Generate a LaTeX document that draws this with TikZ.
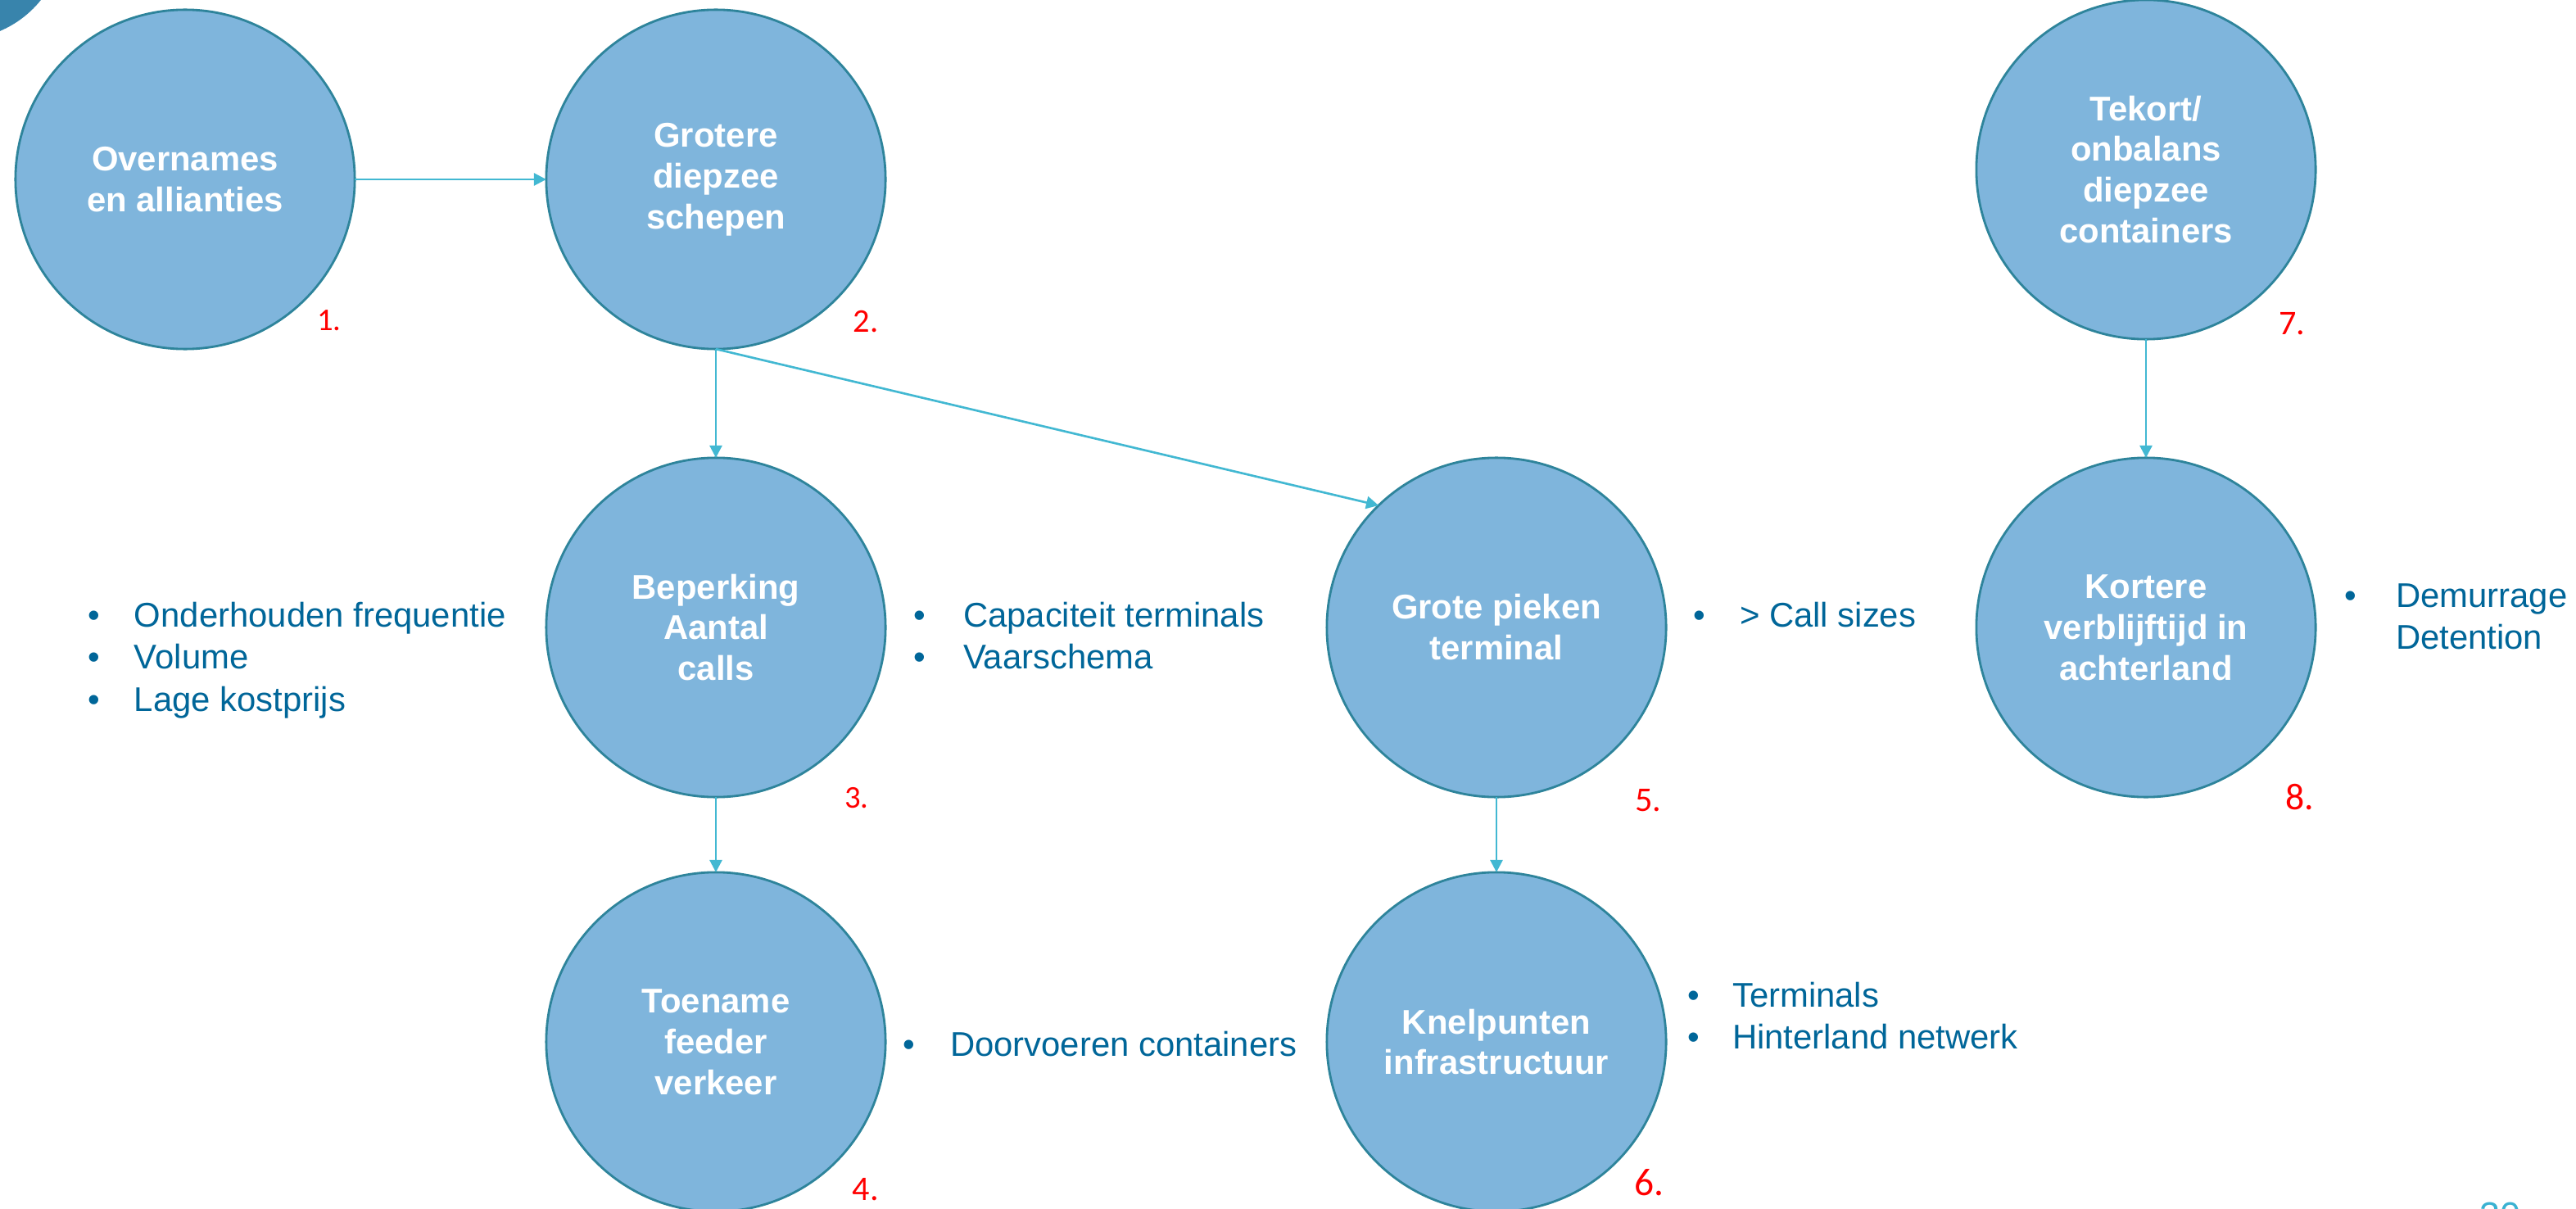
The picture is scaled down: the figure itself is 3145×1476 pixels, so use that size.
\documentclass[tikz,border=0pt]{standalone}
\usepackage{fontspec}
\setmainfont{Liberation Sans}
\newfontfamily\numfont{Carlito}
\usetikzlibrary{arrows.meta}
\definecolor{bubfill}{RGB}{127,181,220}
\definecolor{bubline}{RGB}{46,132,155}
\definecolor{arrcol}{RGB}{66,184,210}
\definecolor{txtblue}{RGB}{0,102,153}
\definecolor{cornerblue}{RGB}{56,132,172}
\definecolor{pagecol}{RGB}{59,178,210}
\newcommand{\bl}[1]{\makebox[#1][l]{\textbullet}}
\tikzset{
  bub/.style={circle, draw=bubline, line width=0.8pt, fill=bubfill, minimum size=4.14cm,
    inner sep=0pt, outer sep=0pt, align=center, text=white,
    font=\fontsize{11.9pt}{14.2pt}\selectfont\bfseries},
  arr/.style={draw=arrcol, line width=0.75pt, -{Triangle[width=4.3pt,length=4.3pt]}},
  lst/.style={anchor=base west, inner sep=0pt, outer sep=0pt, text=txtblue,
    font=\fontsize{11.9pt}{14.7pt}\selectfont},
  numlab/.style={text=red, inner sep=0pt}
}
\begin{document}
\begin{tikzpicture}[x=0.01cm,y=-0.01cm]
\clip (0,0) rectangle (3145,1476);
\fill[white] (0,0) rectangle (3145,1476);
\fill[cornerblue] (-50,-80) circle[radius=128];

\node[bub] (c1) at (226,219) {Overnames\\en allianties};
\node[bub] (c2) at (874,219) {Grotere\\diepzee\\schepen};
\node[bub] (c3) at (874,766) {Beperking\\Aantal\\calls};
\node[bub] (c4) at (874,1272) {Toename\\feeder\\verkeer};
\node[bub] (c5) at (1827,766) {Grote pieken\\terminal};
\node[bub] (c6) at (1827,1272) {Knelpunten\\infrastructuur};
\node[bub] (c7) at (2620,207) {Tekort/\\onbalans\\diepzee\\containers};
\node[bub] (c8) at (2620,766) {Kortere\\verblijftijd in\\achterland};

\draw[arr] (c1) -- (c2);
\draw[arr] (c2.south) -- (c3.north);
\draw[arr] (c2.south) -- (c5.134);
\draw[arr] (c3) -- (c4);
\draw[arr] (c5) -- (c6);
\draw[arr] (c7) -- (c8);

\node[numlab, font=\numfont\fontsize{11pt}{13pt}\selectfont] (n1) at (402,391) {1.};
\node[numlab, font=\numfont\fontsize{11.5pt}{13pt}\selectfont] (n2) at (1057,393) {2.};
\node[numlab, font=\numfont\fontsize{11pt}{13pt}\selectfont] (n3) at (1046,974) {3.};
\node[numlab, font=\numfont\fontsize{12pt}{14pt}\selectfont] (n4) at (1057,1452) {4.};
\node[numlab, font=\numfont\fontsize{12pt}{14pt}\selectfont] (n5) at (2012,977) {5.};
\node[numlab, font=\numfont\fontsize{13.5pt}{15pt}\selectfont] (n6) at (2013,1444) {6.};
\node[numlab, font=\numfont\fontsize{12pt}{14pt}\selectfont] (n7) at (2798,395) {7.};
\node[numlab, font=\numfont\fontsize{13pt}{15pt}\selectfont] (n8) at (2808,973) {8.};

\node[lst] (l1) at (107,765) {\begin{tabular}[t]{@{}l@{}}
\bl{0.57cm}Onderhouden frequentie\\ \bl{0.57cm}Volume\\ \bl{0.57cm}Lage kostprijs\end{tabular}};
\node[lst] (l2) at (1115,765) {\begin{tabular}[t]{@{}l@{}}
\bl{0.61cm}Capaciteit terminals\\ \bl{0.61cm}Vaarschema\end{tabular}};
\node[lst] (l3) at (1102,1289) {\bl{0.58cm}Doorvoeren containers};
\node[lst] (l4) at (2067,765) {\bl{0.57cm}> Call sizes};
\node[lst] (l5) at (2060,1229) {\begin{tabular}[t]{@{}l@{}}
\bl{0.55cm}Terminals\\ \bl{0.55cm}Hinterland netwerk\end{tabular}};
\node[lst] (l6) at (2862,741) {\begin{tabular}[t]{@{}l@{}}
\bl{0.63cm}Demurrage\\ \hspace*{0.63cm}Detention\end{tabular}};

\node[anchor=base west, inner sep=0pt, text=pagecol, font=\fontsize{12.8pt}{15pt}\selectfont] (pg) at (3027,1499) {30};
\end{tikzpicture}
\end{document}
